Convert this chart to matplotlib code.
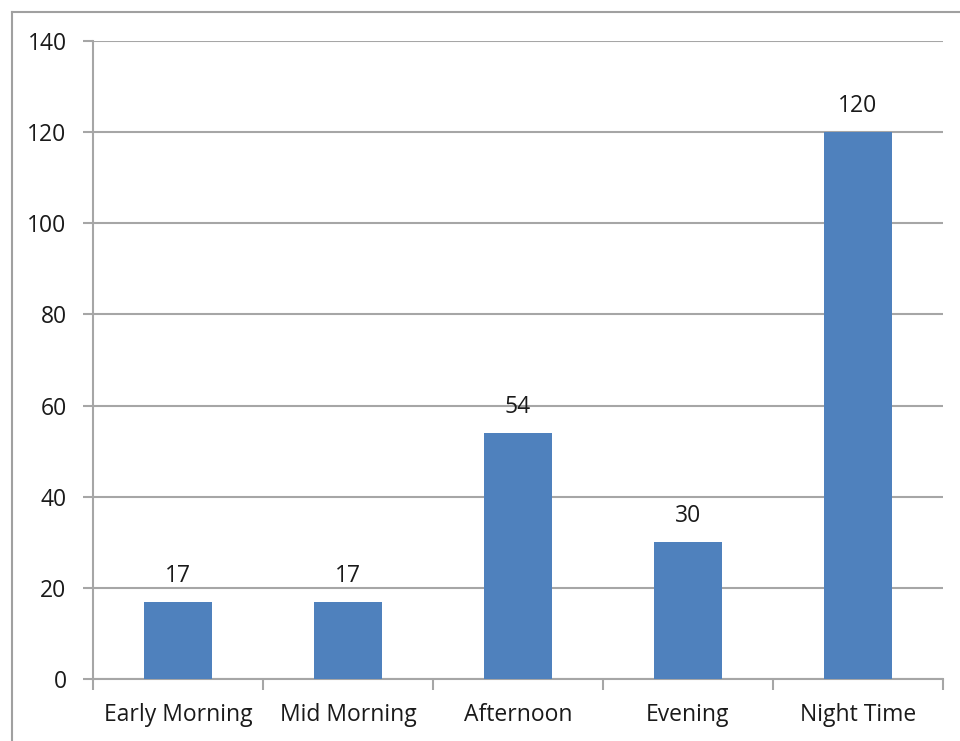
import matplotlib
matplotlib.use("Agg")
import matplotlib.pyplot as plt
from matplotlib.lines import Line2D

categories = ["Early Morning", "Mid Morning", "Afternoon", "Evening", "Night Time"]
values = [17, 17, 54, 30, 120]
yticks = [0, 20, 40, 60, 80, 100, 120, 140]

W, H = 960, 741
fig = plt.figure(figsize=(W / 100, H / 100), dpi=100)
plt.rcParams['font.family'] = ['Open Sans', 'DejaVu Sans']
FS = 16.5
TC = "#1a1a1a"

ax = fig.add_axes([93 / W, 1 - 679 / H, (943 - 93) / W, (679 - 41) / H])
grid_c = "#A6A6A6"
x = list(range(len(categories)))
ax.bar(x, values, width=0.4, color="#4F81BD", zorder=3)
ax.set_xlim(-0.5, len(categories) - 0.5)
ax.set_ylim(0, 140)
ax.set_yticks(yticks)
ax.set_yticklabels([str(t) for t in yticks], fontsize=FS, color=TC)
ax.set_xticks(x)
ax.set_xticklabels(categories, fontsize=FS, color=TC)
ax.tick_params(axis='x', length=0, pad=17)
ax.tick_params(axis='y', length=7, width=1.5, color=grid_c, pad=12)
ax.set_xticks([i - 0.5 for i in range(len(categories) + 1)], minor=True)
ax.tick_params(axis='x', which='minor', length=8, width=1.5, color=grid_c)
ax.yaxis.grid(True, color=grid_c, linewidth=1.5, zorder=0)
ax.set_axisbelow(True)
for s in ["top", "right"]:
    ax.spines[s].set_visible(False)
for s in ["left", "bottom"]:
    ax.spines[s].set_color(grid_c)
    ax.spines[s].set_linewidth(1.5)

for xi, v in zip(x, values):
    ax.annotate(str(v), (xi, v), xytext=(0, 10), textcoords="offset points",
                ha="center", va="bottom", fontsize=FS, color=TC)

fig.add_artist(Line2D([11.5 / W, 11.5 / W], [0, 1 - 11.5 / H], transform=fig.transFigure,
                      color="#A0A0A0", linewidth=1.5))
fig.add_artist(Line2D([11.5 / W, 1], [1 - 11.5 / H, 1 - 11.5 / H], transform=fig.transFigure,
                      color="#A0A0A0", linewidth=1.5))

fig.savefig("out.png", dpi=100)
